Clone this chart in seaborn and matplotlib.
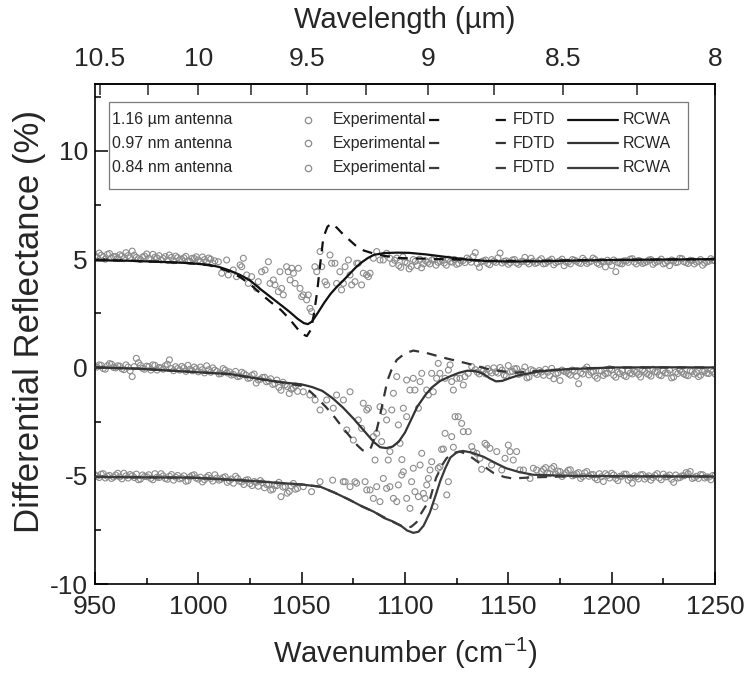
import numpy as np
import matplotlib
matplotlib.use("Agg")
import matplotlib.pyplot as plt
import seaborn as sns
from matplotlib.ticker import MultipleLocator
from matplotlib.patches import Rectangle
from matplotlib.lines import Line2D

# ******************* data *******************
# RCWA / FDTD curves, offset +5 (1.16 um), 0 (0.97), -5 (0.84)
rcwa116_x = [950, 965, 980, 995, 1005, 1010, 1015, 1020, 1025, 1030, 1035, 1040, 1044, 1048, 1051, 1053,
             1055, 1058, 1061, 1064, 1067, 1070, 1073, 1076, 1079, 1082, 1085, 1090, 1096, 1102, 1110,
             1120, 1130, 1140, 1150, 1165, 1185, 1210, 1250]
rcwa116_y = [4.95, 4.93, 4.88, 4.82, 4.74, 4.64, 4.48, 4.28, 4.02, 3.62, 3.25, 2.88, 2.58, 2.25, 2.05, 2.0,
             2.12, 2.55, 3.0, 3.4, 3.72, 4.0, 4.3, 4.6, 4.85, 5.05, 5.2, 5.28, 5.3, 5.29, 5.22,
             5.1, 4.98, 4.91, 4.89, 4.9, 4.94, 4.97, 5.0]
fdtd116_x = [950, 965, 980, 995, 1005, 1010, 1015, 1020, 1025, 1030, 1035, 1040, 1044, 1047, 1050, 1052.5,
             1054.5, 1056, 1057.5, 1059, 1060.5, 1062.5, 1064.5, 1067, 1070, 1073.5, 1077, 1080, 1085,
             1090, 1097, 1110, 1125, 1140, 1160, 1190, 1220, 1250]
fdtd116_y = [4.95, 4.93, 4.88, 4.82, 4.72, 4.6, 4.42, 4.18, 3.85, 3.42, 3.02, 2.65, 2.25, 1.9, 1.55, 1.45,
             1.75, 2.5, 3.5, 4.8, 6.0, 6.5, 6.65, 6.45, 6.15, 5.85, 5.55, 5.4, 5.25,
             5.15, 5.05, 5.02, 4.98, 4.92, 4.92, 4.96, 4.98, 5.0]

rcwa097_x = [950, 970, 996, 1015, 1031, 1040, 1050, 1055, 1060, 1065, 1070, 1075, 1080, 1085, 1088, 1091,
             1094, 1097, 1100, 1103, 1106, 1110, 1113, 1117, 1122, 1126, 1130, 1134, 1138, 1141, 1144,
             1147, 1151, 1155, 1165, 1178, 1200, 1225, 1250]
rcwa097_y = [0.0, -0.05, -0.2, -0.3, -0.55, -0.68, -0.78, -0.9, -1.08, -1.42, -1.85, -2.35, -2.9, -3.45, -3.68, -3.72,
             -3.65, -3.42, -3.0, -2.4, -1.8, -1.25, -0.92, -0.62, -0.4, -0.25, -0.15, -0.16, -0.3, -0.5, -0.64,
             -0.62, -0.48, -0.36, -0.18, -0.08, 0.0, 0.01, 0.0]
fdtd097_x = [950, 970, 996, 1015, 1031, 1040, 1050, 1054, 1058, 1062, 1066, 1070, 1073.5, 1077, 1079.5, 1081.5,
             1083.5, 1085.5, 1087.5, 1089.5, 1091.5, 1093.5, 1096, 1100, 1104, 1110, 1120, 1130, 1142, 1154,
             1165, 1180, 1200, 1250]
fdtd097_y = [0.0, -0.05, -0.2, -0.3, -0.55, -0.68, -0.85, -1.1, -1.45, -1.85, -2.3, -2.8, -3.2, -3.6, -3.82, -3.88,
             -3.7, -3.2, -2.4, -1.5, -0.6, -0.1, 0.35, 0.65, 0.78, 0.68, 0.42, 0.19, -0.12, -0.24,
             -0.15, -0.06, 0.0, 0.0]

rcwa084_x = [950, 975, 996, 1010, 1025, 1040, 1050, 1059, 1066, 1073, 1079, 1085, 1090, 1094, 1098, 1101,
             1104, 1106.5, 1109, 1112, 1115, 1117, 1119.5, 1122, 1125, 1128, 1132, 1138, 1144, 1149, 1155,
             1162, 1180, 1210, 1250]
rcwa084_y = [-5.05, -5.07, -5.08, -5.15, -5.23, -5.33, -5.4, -5.5, -5.78, -6.1, -6.4, -6.66, -6.95, -7.1, -7.3, -7.52,
             -7.63, -7.58, -7.3, -6.7, -5.85, -5.25, -4.65, -4.15, -3.92, -3.85, -3.92, -4.12, -4.42, -4.65, -4.82,
             -4.95, -5.0, -5.02, -5.03]
fdtd084_x = [950, 975, 996, 1010, 1025, 1040, 1050, 1059, 1066, 1073, 1079, 1085, 1090, 1094, 1098, 1101,
             1103, 1105.5, 1108, 1112, 1115, 1118, 1120, 1123, 1126.5, 1130, 1133, 1138, 1143, 1148, 1152,
             1162, 1180, 1250]
fdtd084_y = [-5.05, -5.07, -5.08, -5.15, -5.23, -5.33, -5.4, -5.5, -5.78, -6.1, -6.4, -6.66, -6.92, -7.12, -7.3, -7.38,
             -7.35, -7.15, -6.7, -6.1, -5.1, -4.5, -4.2, -3.95, -3.88, -4.0, -4.2, -4.55, -4.88, -5.05, -5.12,
             -5.07, -5.02, -5.03]

# Experimental points: flat parts sampled every 1 cm-1 (even / odd lists), resonance parts read point by point
exp116_left = [5.15, 5.28, 5.10, 5.22, 5.05, 5.12, 5.20, 5.02, 5.16, 5.37, 5.08, 4.98, 5.14, 5.04, 5.22,
               5.06, 4.96, 5.12, 5.19, 4.93, 5.07, 4.99, 5.13, 4.90, 5.03, 4.96, 5.10, 4.86, 5.00, 4.92]
exp116_left_odd = [5.08, 5.18, 5.00, 5.26, 5.12, 5.04, 5.15, 5.30, 5.06, 5.18, 5.02, 5.10, 5.24, 4.98, 5.09,
                   5.16, 5.03, 4.95, 5.08, 5.14, 4.97, 5.06, 4.92, 5.04, 5.11, 4.88, 4.98, 5.05, 4.80]
exp116_dip_x = [1009.7, 1011.3, 1013.7, 1014.5, 1016.9, 1018.5, 1020.2, 1021.8, 1021.0, 1023.4, 1024.2, 1025.8,
                1028.2, 1029.0, 1030.6, 1032.3, 1033.9, 1034.7, 1036.3, 1037.1, 1038.7, 1039.5, 1040.3, 1041.1,
                1042.7, 1043.5, 1044.4, 1045.2, 1046.0, 1046.8, 1048.4, 1049.2, 1050.0, 1050.8, 1052.4, 1053.2,
                1054.0, 1054.8, 1056.4, 1057.3, 1058.9, 1059.7, 1061.3, 1062.1, 1063.7, 1064.5, 1066.1, 1066.9,
                1068.5, 1069.3, 1070.2, 1071.0, 1072.6, 1073.4, 1074.2, 1075.8, 1076.6, 1077.4, 1079.0, 1079.8,
                1081.4, 1082.3, 1083.1, 1084.7, 1086.3, 1087.9, 1089.5, 1091.1, 1092.7]
exp116_dip_y = [4.88, 4.35, 4.96, 4.27, 4.50, 4.19, 4.73, 5.04, 4.65, 4.27, 3.88, 4.19,
                3.65, 3.96, 4.42, 4.50, 4.88, 3.88, 4.04, 3.81, 3.50, 4.42, 3.65, 3.35,
                4.65, 4.42, 4.04, 4.58, 4.35, 3.88, 4.58, 3.65, 3.27, 3.35, 3.12, 3.35,
                2.73, 2.58, 4.65, 4.42, 5.35, 4.65, 3.96, 3.81, 5.19, 4.81, 4.81, 3.88,
                4.42, 3.58, 3.88, 4.65, 4.96, 4.27, 3.81, 3.96, 4.81, 4.81, 3.81, 4.35,
                4.27, 4.19, 4.35, 5.04, 5.35, 4.96, 4.96, 5.27, 5.04]
exp116_right = [4.80, 5.05, 4.62, 4.88, 4.55, 4.98, 4.70, 4.60, 4.92, 4.78, 5.02, 4.85, 4.95, 4.72, 4.88,
                4.98, 4.80, 4.93, 5.05, 4.86, 5.30, 4.62, 4.92, 4.80, 4.98, 4.85, 5.28, 4.90, 4.76, 4.96,
                4.82, 4.88, 5.08, 4.78, 4.90, 4.84, 5.02, 4.80, 4.93, 4.74, 4.88, 5.00, 4.86, 4.78, 4.95,
                4.84, 5.04, 4.80, 4.90, 4.98, 4.76, 4.88, 4.95, 4.70, 4.42, 4.80, 4.92, 4.85, 5.02, 4.78,
                4.90, 4.84, 4.96, 4.76, 4.88, 5.00, 4.82, 4.70, 4.92, 4.86, 5.02, 4.84, 4.95, 4.78, 4.90,
                4.72, 4.88, 5.02, 4.92]
exp116_right_odd = [4.95, 4.70, 5.10, 4.82, 4.66, 4.90, 5.00, 4.78, 4.85, 4.96, 4.72, 4.90, 4.82, 5.00, 4.86,
                    4.76, 4.94, 4.84, 4.98, 5.12, 4.80, 4.88, 4.96, 4.74, 4.90, 5.06, 4.82, 4.92, 4.84, 4.98,
                    4.76, 4.90, 4.86, 5.04, 4.80, 4.94, 4.78, 4.88, 5.00, 4.84, 4.92, 4.70, 4.86, 4.98, 4.90,
                    4.80, 4.94, 4.86, 5.05, 4.82, 4.90, 4.64, 4.88, 4.96, 4.84, 4.78, 4.92, 5.00, 4.86, 4.94,
                    4.80, 4.88, 4.98, 4.84, 4.92, 4.78, 4.90, 4.96, 4.84, 5.04, 4.88, 4.80, 4.94, 4.86, 4.98,
                    4.82, 4.90, 4.95]

exp097_left = [0.05, 0.12, -0.05, 0.08, 0.15, -0.02, 0.06, -0.10, 0.02, -0.42, 0.42, 0.10, -0.08, 0.04, 0.12,
               -0.12, -0.02, 0.08, 0.35, -0.15, -0.05, 0.05, -0.18, -0.08, 0.02, -0.20, -0.10, 0.08, -0.22,
               -0.12, -0.30, -0.05, -0.25, -0.35, -0.18, -0.40, -0.28, -0.50, -0.36, -0.72, -0.55, -0.45,
               -0.62, -0.78, -0.58, -1.05, -0.80, -1.20, -0.95, -1.10]
exp097_left_odd = [0.02, 0.10, -0.08, 0.18, 0.00, 0.08, -0.06, 0.12, -0.15, 0.04, 0.22, -0.04, 0.06, -0.12,
                   0.10, 0.00, -0.08, 0.15, -0.05, 0.04, -0.12, -0.02, 0.10, -0.15, -0.06, 0.02, -0.25, -0.10,
                   -0.02, -0.18, -0.28, -0.12, -0.20, -0.32, -0.42, -0.22, -0.35, -0.48, -0.30, -0.58, -0.46,
                   -0.66, -0.52, -0.75, -0.92, -0.68, -0.88, -1.00, -0.85]
exp097_dip_x = [1050.8, 1054.0, 1056.5, 1058.9, 1062.1, 1065.3, 1066.9, 1070.2, 1071.8, 1073.4, 1075.0, 1077.4,
                1079.0, 1079.8, 1081.5, 1082.3, 1084.7, 1085.5, 1086.3, 1087.9, 1088.7, 1089.5, 1091.1, 1091.9,
                1092.7, 1093.6, 1094.4, 1096.0, 1096.8, 1097.6, 1098.5, 1099.2, 1100.8, 1100.8, 1102.4, 1104.0,
                1104.8, 1106.5, 1107.3, 1108.1, 1110.5, 1111.3, 1112.9, 1113.7, 1115.3, 1116.1, 1116.9, 1119.4,
                1121.0, 1121.8, 1122.6, 1123.4, 1125.0, 1126.6, 1128.2, 1129.0, 1130.6, 1132.3]
exp097_dip_y = [-1.12, -1.27, -1.50, -1.96, -1.50, -1.88, -1.27, -1.50, -2.88, -1.12, -3.35, -2.42,
                -2.81, -1.65, -1.96, -1.88, -3.19, -4.27, -3.04, -1.81, -3.42, -2.04, -2.42, -4.27,
                -3.88, -1.96, -1.19, -0.42, -2.65, -3.50, -4.25, -1.88, -2.27, -0.58, -1.04, -0.50,
                -1.04, -1.88, -0.65, -0.27, -1.04, -1.27, -0.27, -1.12, -0.50, 0.19, -0.27, -0.50,
                -0.12, 0.12, -0.65, -1.04, -0.50, -0.50, -0.81, -0.42, -0.27, 0.04]
exp097_right = [-0.10, -0.30, -0.14, -0.05, -0.25, -0.20, 0.00, -0.35, 0.09, -0.18, -0.05, -0.28, 0.02,
                -0.44, -0.15, -0.32, -0.21, -0.08, -0.38, -0.52, -0.25, -0.12, -0.21, -0.35, -0.18, -0.75,
                -0.30, 0.02, -0.22, -0.40, -0.15, -0.37, -0.26, -0.10, -0.45, -0.28, -0.37, -0.14, -0.30,
                -0.22, -0.44, -0.18, -0.33, -0.08, -0.21, -0.38, -0.25, -0.12, -0.44, -0.28, -0.21, -0.35,
                -0.15, -0.30, -0.42, -0.18, -0.26, -0.12, -0.30]
exp097_right_odd = [-0.22, -0.08, -0.30, -0.16, -0.02, -0.26, -0.12, -0.40, -0.20, -0.06, -0.32, -0.18, -0.48,
                    -0.10, -0.26, -0.14, -0.36, -0.22, -0.04, -0.30, -0.60, -0.18, -0.28, -0.12, -0.40, -0.24,
                    -0.08, -0.34, -0.20, -0.50, -0.16, -0.28, -0.06, -0.36, -0.22, -0.14, -0.42, -0.26, -0.18,
                    -0.32, -0.10, -0.28, -0.40, -0.20, -0.34, -0.14, -0.26, -0.48, -0.22, -0.12, -0.30, -0.38,
                    -0.18, -0.24, -0.36, -0.16, -0.28, -0.20]

exp084_left = [-4.95, -5.08, -4.90, -5.02, -5.12, -4.96, -5.05, -4.88, -5.10, -5.00, -4.92, -5.15, -5.03,
               -4.95, -5.18, -5.06, -4.90, -5.12, -5.02, -5.20, -4.98, -5.10, -5.25, -5.05, -4.95, -5.15,
               -5.28, -5.06, -5.12, -4.95, -5.20, -5.08, -5.30, -5.15, -5.02, -5.25, -5.40, -5.18, -5.45,
               -5.30, -5.22, -5.55, -5.38, -5.62, -5.45, -5.96, -5.50, -5.72, -5.35, -5.58]
exp084_left_odd = [-5.02, -4.92, -5.10, -4.98, -5.06, -4.88, -5.14, -5.00, -4.94, -5.08, -5.18, -4.96, -5.04,
                   -5.12, -4.90, -5.08, -5.00, -5.16, -4.94, -5.06, -5.14, -5.00, -5.22, -4.98, -5.10, -5.06,
                   -5.18, -4.98, -5.24, -5.10, -5.16, -5.04, -5.22, -5.34, -5.12, -5.28, -5.20, -5.36, -5.26,
                   -5.48, -5.32, -5.40, -5.66, -5.44, -5.30, -5.52, -5.80, -5.46, -5.62]
exp084_dip_x = [1050.8, 1054.8, 1058.9, 1065.0, 1070.1, 1071.0, 1073.4, 1075.8, 1076.6, 1080.7, 1081.5, 1083.1,
                1084.7, 1086.3, 1087.9, 1089.5, 1091.1, 1092.7, 1094.4, 1096.0, 1096.8, 1098.4, 1099.2, 1100.8,
                1102.4, 1103.2, 1104.0, 1104.8, 1106.5, 1107.3, 1108.1, 1108.9, 1109.7, 1110.5, 1111.3, 1112.1,
                1112.9, 1114.5, 1116.1, 1116.9, 1117.7, 1118.6, 1119.4, 1120.2, 1121.0, 1122.6, 1123.4, 1124.2,
                1125.8, 1127.4, 1128.2, 1130.6, 1132.3, 1133.1, 1134.7, 1136.3, 1137.1, 1138.7, 1139.5, 1141.1,
                1141.9, 1144.4, 1146.8, 1148.4, 1150.0, 1150.8, 1152.4, 1154.0, 1155.6, 1157.3, 1160.5, 1162.1,
                1163.7]
exp084_dip_y = [-5.50, -5.73, -5.27, -5.20, -5.27, -5.27, -5.50, -5.27, -5.34, -5.27, -5.65, -5.65,
                -6.04, -5.50, -6.19, -5.12, -5.58, -5.50, -6.04, -6.19, -5.42, -4.96, -4.81, -6.04,
                -6.50, -5.27, -4.65, -5.73, -5.96, -4.50, -3.96, -5.81, -6.04, -5.42, -5.12, -4.73,
                -4.35, -6.42, -4.65, -4.58, -3.78, -3.76, -3.04, -5.88, -5.27, -3.19, -3.68, -2.27,
                -2.27, -2.58, -2.96, -2.96, -3.65, -3.88, -3.96, -4.19, -4.70, -3.50, -3.58, -3.73,
                -4.50, -3.88, -4.73, -4.19, -3.58, -3.88, -4.27, -3.88, -4.73, -4.73, -5.12, -4.65,
                -4.73]
exp084_right = [-4.80, -4.62, -4.90, -4.57, -4.78, -5.03, -4.85, -4.72, -4.96, -4.85, -5.03, -4.80, -4.95,
                -5.10, -4.90, -5.26, -4.98, -4.88, -5.12, -5.02, -4.92, -5.20, -5.34, -5.05, -4.95, -5.15,
                -5.00, -5.08, -4.90, -5.18, -5.05, -4.96, -5.30, -5.10, -5.00, -4.85, -4.80, -5.08, -5.12,
                -4.95, -5.05, -5.18, -5.00]
exp084_right_odd = [-4.70, -4.88, -4.66, -4.92, -4.80, -4.95, -4.74, -5.00, -4.90, -5.12, -4.86, -5.02, -4.94,
                    -5.18, -5.04, -4.90, -5.10, -4.96, -5.22, -5.02, -4.92, -5.08, -5.00, -5.14, -4.94, -5.06,
                    -5.20, -4.98, -5.10, -4.92, -5.04, -5.16, -4.96, -5.08, -5.00, -4.90, -5.12, -5.02, -4.94,
                    -5.10, -5.06, -4.98]

antenna_labels = ["1.16 µm antenna", "0.97 nm antenna", "0.84 nm antenna"]
bottom_ticks = [950, 1000, 1050, 1100, 1150, 1200, 1250]
top_ticks = [10.5, 10, 9.5, 9, 8.5, 8]
top_tick_labels = ["10.5", "10", "9.5", "9", "8.5", "8"]
top_minor = [10.25, 9.75, 9.25, 8.75, 8.25]
y_ticks = [-10, -5, 0, 5, 10]


def grid(start, vals):
    # flat parts are sampled every 2 cm-1 per list
    return start + 2 * np.arange(len(vals))


def exp_points(parts):
    xs = np.concatenate([grid(s, v) if s is not None else np.asarray(x) for s, x, v in parts])
    ys = np.concatenate([np.asarray(v, dtype=float) for s, x, v in parts])
    return xs, ys


exp116_x, exp116_y = exp_points([(950, None, exp116_left), (951, None, exp116_left_odd),
                                 (None, exp116_dip_x, exp116_dip_y),
                                 (1094, None, exp116_right), (1095, None, exp116_right_odd)])
exp097_x, exp097_y = exp_points([(950, None, exp097_left), (951, None, exp097_left_odd),
                                 (None, exp097_dip_x, exp097_dip_y),
                                 (1134, None, exp097_right), (1135, None, exp097_right_odd)])
exp084_x, exp084_y = exp_points([(950, None, exp084_left), (951, None, exp084_left_odd),
                                 (None, exp084_dip_x, exp084_dip_y),
                                 (1166, None, exp084_right), (1167, None, exp084_right_odd)])

# ******************* style *******************
sns.set_style("ticks")
plt.rcParams['font.family'] = ['Liberation Sans', 'DejaVu Sans']
plt.rcParams['mathtext.fontset'] = 'custom'
plt.rcParams['mathtext.rm'] = 'Liberation Sans'
plt.rcParams['mathtext.default'] = 'rm'
plt.rcParams['axes.unicode_minus'] = False

GRAY = "#8c8c8c"
LINE_COLORS = ["#111111", "#333333", "#3a3a3a"]
LW = 1.6
DASH = (0, (4.5, 3.6))
LEG_FS = 11.5

fig = plt.figure(figsize=(7.47, 6.8), dpi=100)
ax = fig.add_axes([95 / 747, 1 - 584.2 / 680, 620 / 747, 500.6 / 680])

traces = [
    (exp116_x, exp116_y, fdtd116_x, fdtd116_y, rcwa116_x, rcwa116_y),
    (exp097_x, exp097_y, fdtd097_x, fdtd097_y, rcwa097_x, rcwa097_y),
    (exp084_x, exp084_y, fdtd084_x, fdtd084_y, rcwa084_x, rcwa084_y),
]

for (ex, ey, fx, fy, rx, ry), c in zip(traces, LINE_COLORS):
    sns.scatterplot(x=ex, y=ey, ax=ax, marker='o', s=18, color=GRAY,
                    facecolor='none', edgecolor=GRAY, linewidth=0.8, zorder=2)
    sns.lineplot(x=fx, y=fy, ax=ax, color=c, linewidth=LW, linestyle=DASH,
                 estimator=None, sort=False, zorder=3)
    sns.lineplot(x=rx, y=ry, ax=ax, color=c, linewidth=LW,
                 estimator=None, sort=False, zorder=3)

ax.set_xlim(950, 1250)
ax.set_ylim(-10, 13.1)

# bottom / left axes
ax.set_xticks(bottom_ticks)
ax.xaxis.set_minor_locator(MultipleLocator(25))
ax.set_yticks(y_ticks)
ax.yaxis.set_minor_locator(MultipleLocator(2.5))
ax.tick_params(axis='both', which='both', direction='in', top=False, right=False,
               labelsize=19, width=1.1, color='black')
ax.tick_params(axis='both', which='major', length=9)
ax.tick_params(axis='both', which='minor', length=4.5)
ax.tick_params(axis='x', which='major', pad=8)
ax.tick_params(axis='y', which='major', pad=5)
for sp in ax.spines.values():
    sp.set_visible(True)
    sp.set_linewidth(1.2)
    sp.set_color('black')

ax.set_xlabel("Wavenumber (cm$^{-1}$)", fontsize=21)
ax.xaxis.set_label_coords(0.5, -0.1035)
ax.set_ylabel("Differential Reflectance (%)", fontsize=25)
ax.yaxis.set_label_coords(-0.079, 0.524)


# top axis: wavelength in um
def wn_to_wl(v):
    with np.errstate(divide='ignore'):
        return 1e4 / np.asarray(v, dtype=float)


secax = ax.secondary_xaxis('top', functions=(wn_to_wl, wn_to_wl))
secax.set_xticks(top_ticks, labels=top_tick_labels)
secax.set_xticks(top_minor, minor=True)
secax.tick_params(axis='x', which='both', direction='in', length=8, width=1.1, labelsize=19, pad=9)
secax.spines['top'].set_linewidth(1.2)
secax.set_xlabel("Wavelength (µm)", fontsize=21, labelpad=14)

# ******************* legend (table layout like the original) *******************
box_l, box_r, box_t, box_b = 0.0226, 0.9565, 0.9636, 0.7904
ax.add_patch(Rectangle((box_l, box_b), box_r - box_l, box_t - box_b, transform=ax.transAxes,
                       facecolor='white', edgecolor='#7a7a7a', linewidth=0.9, zorder=5))
row_y = [0.9273, 0.8804, 0.8324]
for lab, yy, c in zip(antenna_labels, row_y, LINE_COLORS):
    ax.text(0.0274, yy, lab, transform=ax.transAxes, fontsize=LEG_FS, va='center', ha='left', zorder=6)
    ax.add_line(Line2D([0.3435], [yy], transform=ax.transAxes, marker='o', ms=4.6, mfc='none',
                       mec=GRAY, mew=0.9, ls='none', zorder=6))
    ax.text(0.3839, yy, "Experimental", transform=ax.transAxes, fontsize=LEG_FS, va='center',
            ha='left', zorder=6)
    ax.add_line(Line2D([0.5385, 0.6645], [yy, yy], transform=ax.transAxes, color=c, lw=LW,
                       ls=(0, (4.6, 25.4)), zorder=6))
    ax.text(0.6742, yy, "FDTD", transform=ax.transAxes, fontsize=LEG_FS, va='center', ha='left', zorder=6)
    ax.add_line(Line2D([0.7629, 0.8435], [yy, yy], transform=ax.transAxes, color=c, lw=LW, zorder=6))
    ax.text(0.8516, yy, "RCWA", transform=ax.transAxes, fontsize=LEG_FS, va='center', ha='left', zorder=6)

fig.savefig("out.png", dpi=100)
